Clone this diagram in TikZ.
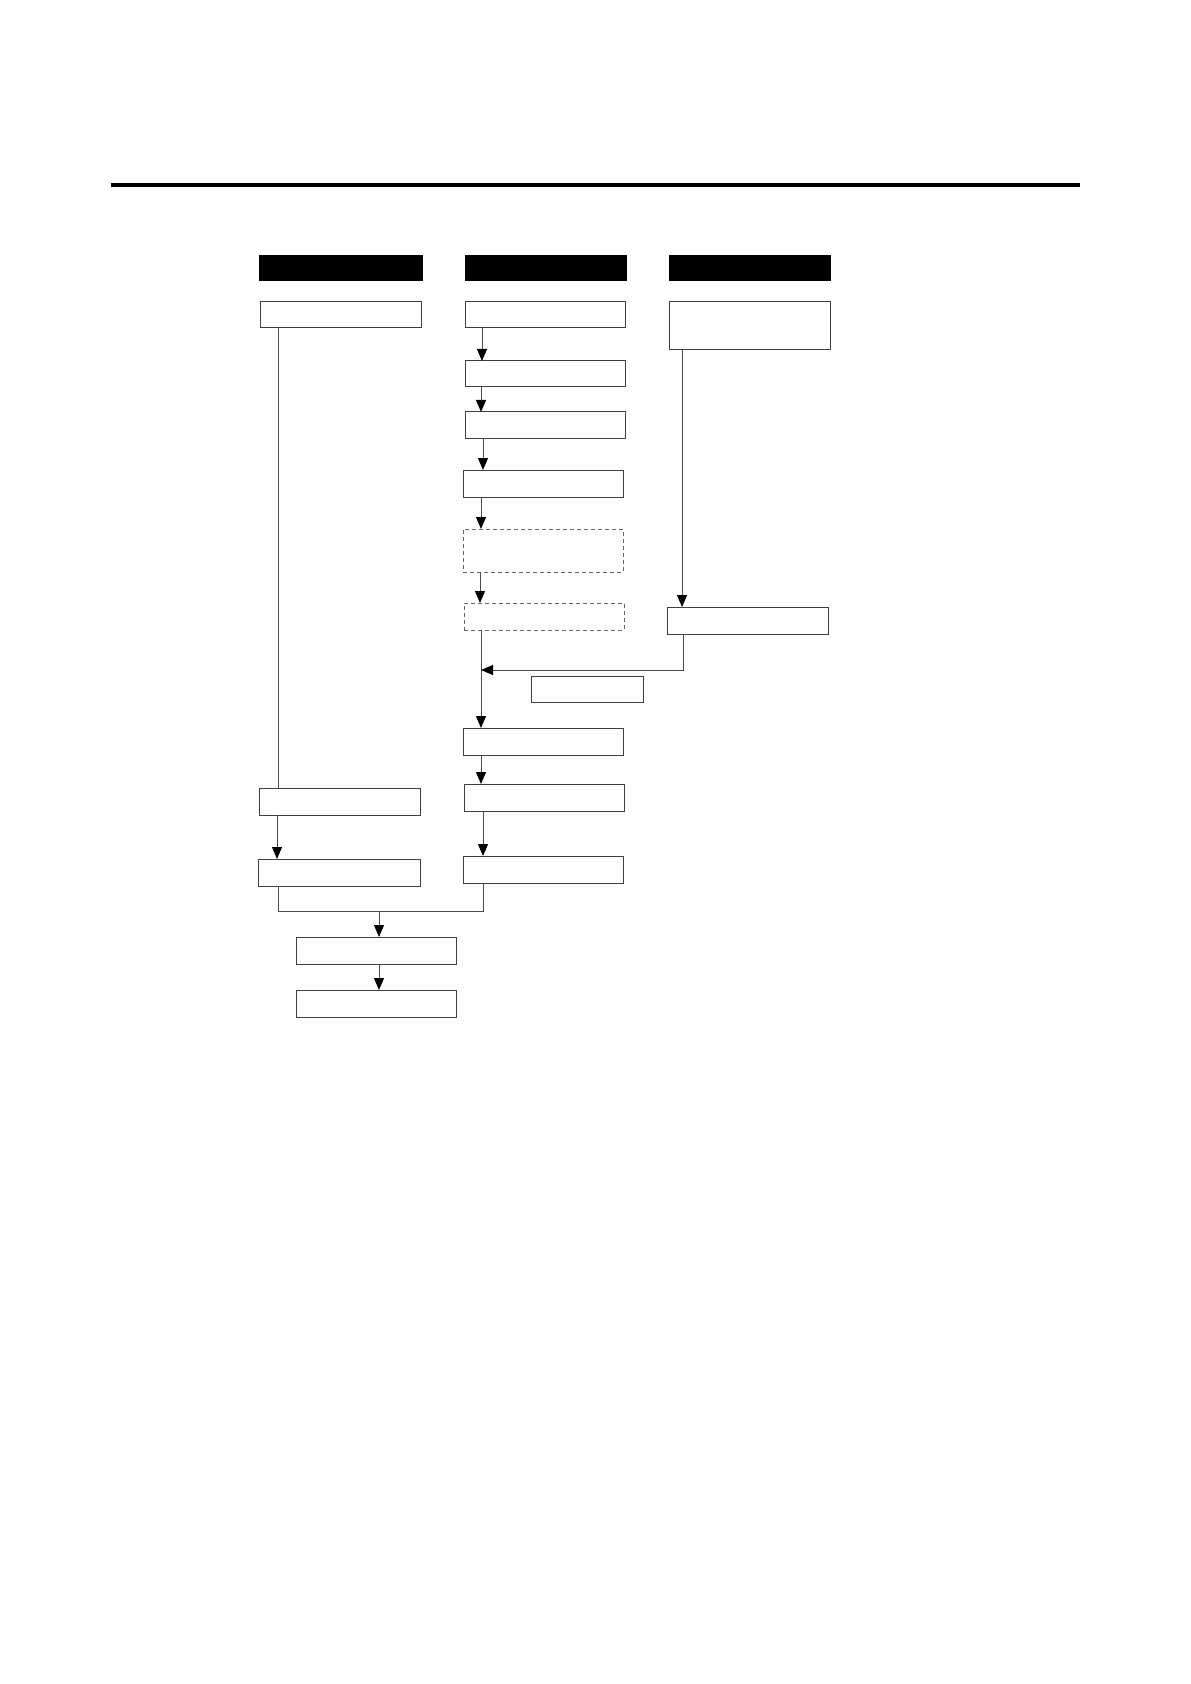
\documentclass[tikz,border=0pt]{standalone}
\usetikzlibrary{arrows.meta,calc}
\begin{document}
\begin{tikzpicture}[x=0.5pt,y=-0.5pt,
  box/.style={draw=black!75,line width=0.5pt,fill=white,inner sep=0pt,outer sep=0pt,anchor=north west,minimum width=80pt,minimum height=13.5pt},
  dbox/.style={box,draw=black!60,dash pattern=on 2pt off 1.5pt},
  hdr/.style={fill=black,draw=none,inner sep=0pt,outer sep=0pt,anchor=north west,minimum height=13pt,minimum width=81pt},
  conn/.style={draw=black!70,line width=0.5pt},
  arr/.style={conn,-{Triangle[length=6pt,width=5pt,color=black,fill=black]}}]
\useasboundingbox (0,0) rectangle (1190,1684);
\fill[white] (0,0) rectangle (1190,1684);
\draw[line width=1.6pt] (111,185) -- (1080,185);
% headers
\node[hdr,minimum width=82pt] (H1) at (259,255) {};
\node[hdr] (H2) at (465,255) {};
\node[hdr] (H3) at (669,255) {};
% column 1
\node[box,minimum width=80.5pt,minimum height=13pt] (A1) at (260,302) {};
\node[box,minimum width=80.5pt] (A2) at (259,788) {};
\node[box,minimum width=81pt] (A3) at (258,859) {};
% column 2
\node[box,minimum height=13pt] (B1) at (465,302) {};
\node[box,minimum height=13pt] (B2) at (465,361) {};
\node[box] (B3) at (465,412) {};
\node[box] (B4) at (463,470) {};
\node[dbox,minimum height=21.5pt] (B5) at (463,529) {};
\node[dbox] (B6) at (464,603) {};
\node[box] (B7) at (463,728) {};
\node[box] (B8) at (464,784) {};
\node[box] (B9) at (463,856) {};
% column 3
\node[box,minimum width=80.5pt,minimum height=24pt] (C1) at (669,302) {};
\node[box,minimum width=80.5pt] (C2) at (667,607) {};
\node[box,minimum width=56pt,minimum height=13pt] (D) at (531,676) {};
% bottom
\node[box] (E1) at (296,937) {};
\node[box] (E2) at (296,990) {};
% connectors column 1
\draw[conn] ([xshift=9pt]A1.south west) -- ([xshift=9pt]A1.south west |- A2.north);
\draw[arr] ([xshift=9pt]A2.south west) -- ([xshift=9pt]A2.south west |- A3.north);
% connectors column 2
\draw[arr] ([xshift=8.5pt]B1.south west) -- ([xshift=8.5pt]B1.south west |- B2.north);
\draw[arr] ([xshift=8pt]B2.south west) -- ([xshift=8pt]B2.south west |- B3.north);
\draw[arr] ([xshift=9pt]B3.south west) -- ([xshift=9pt]B3.south west |- B4.north);
\draw[arr] ([xshift=9pt]B4.south west) -- ([xshift=9pt]B4.south west |- B5.north);
\draw[arr] ([xshift=8.5pt]B5.south west) -- ([xshift=8.5pt]B5.south west |- B6.north);
\coordinate (J) at ([xshift=8.5pt,yshift=-20pt]B6.south west);
\draw[arr] ([xshift=8.5pt]B6.south west) -- ([xshift=8.5pt]B6.south west |- B7.north);
\draw[arr] ([xshift=9pt]B7.south west) -- ([xshift=9pt]B7.south west |- B8.north);
\draw[arr] ([xshift=9.5pt]B8.south west) -- ([xshift=9.5pt]B8.south west |- B9.north);
% connectors column 3
\draw[arr] ([xshift=6.5pt]C1.south west) -- ([xshift=6.5pt]C1.south west |- C2.north);
\draw[arr] ([xshift=8pt]C2.south west) |- (J);
% merge
\coordinate (My) at ([xshift=10pt,yshift=-12.5pt]A3.south west);
\draw[conn] ([xshift=10pt]A3.south west) -- (My) -| ([xshift=10pt]B9.south west);
\draw[arr] ([xshift=41.5pt]E1.north west |- My) -- ([xshift=41.5pt]E1.north west);
\draw[arr] ([xshift=41.5pt]E1.south west) -- ([xshift=41.5pt]E1.south west |- E2.north);
\end{tikzpicture}
\end{document}
